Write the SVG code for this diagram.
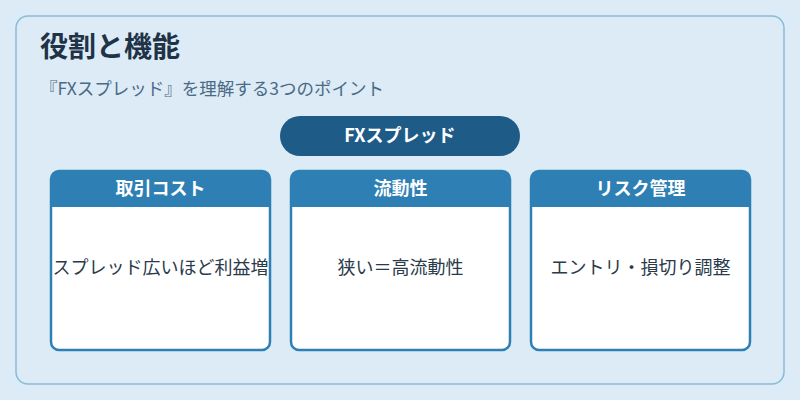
<svg xmlns="http://www.w3.org/2000/svg" width="800" height="400" viewBox="0 0 800 400">
<style>
text{font-family:"Noto Sans CJK JP","Noto Sans",sans-serif}
.card{fill:#fff;stroke:#2e7fb4;stroke-width:2.5}
.hd{fill:#2e7fb4}
.ht{fill:#fff;font-size:18px;font-weight:bold;text-anchor:middle}
.bt{fill:#2a3a4a;font-size:18px;text-anchor:middle}
</style>
<rect width="800" height="400" fill="#dcebf6"/>
<rect x="16" y="16" width="768" height="368" rx="12" fill="#dcebf6" stroke="#8ab9da" stroke-width="1.5"/>
<text x="40" y="57" font-size="28" font-weight="bold" fill="#1f3347">役割と機能</text>
<text x="40" y="95" font-size="17.5" fill="#4a6a85">『FXスプレッド』を理解する3つのポイント</text>
<g id="center"><rect x="280" y="116" width="240" height="40" rx="20" fill="#1e5b87"/><text x="400" y="142" class="ht">FXスプレッド</text></g>
<g id="n1"><rect x="51" y="171" width="219" height="179" rx="8" class="card"/><path d="M51,179 a8,8 0 0 1 8,-8 h203 a8,8 0 0 1 8,8 v28 h-219z" class="hd"/><text x="160.5" y="195" class="ht">取引コスト</text><text x="160.5" y="274" class="bt">スプレッド広いほど利益増</text></g>
<g id="n2"><rect x="291" y="171" width="219" height="179" rx="8" class="card"/><path d="M291,179 a8,8 0 0 1 8,-8 h203 a8,8 0 0 1 8,8 v28 h-219z" class="hd"/><text x="400.5" y="195" class="ht">流動性</text><text x="400.5" y="274" class="bt">狭い＝高流動性</text></g>
<g id="n3"><rect x="531" y="171" width="219" height="179" rx="8" class="card"/><path d="M531,179 a8,8 0 0 1 8,-8 h203 a8,8 0 0 1 8,8 v28 h-219z" class="hd"/><text x="640.5" y="195" class="ht">リスク管理</text><text x="640.5" y="274" class="bt">エントリ・損切り調整</text></g>
<g id="connectors"/>
</svg>
